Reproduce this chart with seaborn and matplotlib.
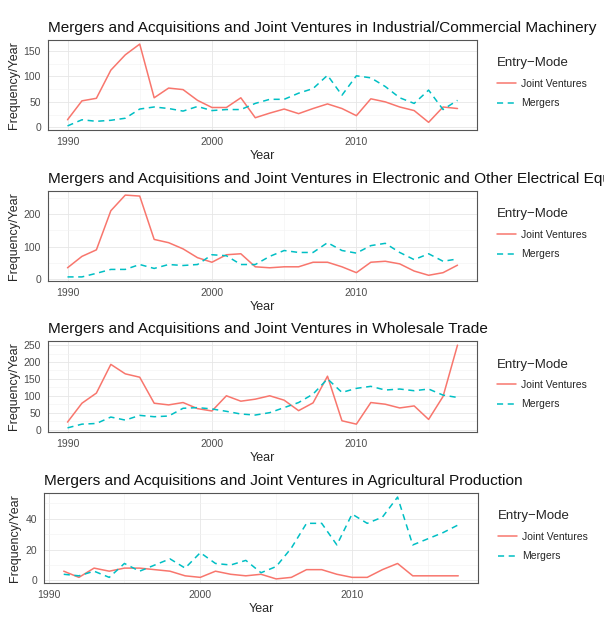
import seaborn as sns
import matplotlib.pyplot as plt
import pandas as pd
from matplotlib.ticker import MultipleLocator

# values
years = list(range(1990, 2018))
years_agri = list(range(1991, 2018))

machinery_jv = [15, 52, 57, 112, 142, 163, 58, 77, 74, 53, 39, 39, 58, 19,
                28, 36, 27, 37, 46, 37, 23, 56, 50, 40, 33, 10, 40, 37]
machinery_m = [3, 15, 12, 14, 18, 36, 40, 37, 32, 41, 33, 35, 35, 47,
               55, 55, 67, 76, 102, 63, 101, 97, 80, 58, 47, 73, 35, 53]

electronic_jv = [35, 70, 90, 210, 258, 255, 122, 112, 93, 66, 52, 75, 78, 38,
                 35, 38, 38, 52, 52, 38, 20, 52, 55, 47, 25, 12, 20, 43]
electronic_m = [7, 7, 18, 30, 30, 45, 33, 45, 42, 45, 75, 72, 45, 45,
                70, 88, 82, 82, 112, 88, 80, 103, 110, 82, 60, 78, 55, 62]

wholesale_jv = [22, 78, 108, 193, 165, 155, 78, 73, 80, 62, 55, 100, 84, 90,
                100, 87, 56, 79, 158, 26, 16, 80, 75, 64, 70, 30, 98, 250]
wholesale_m = [5, 16, 18, 37, 28, 42, 38, 40, 63, 65, 61, 54, 46, 43,
               50, 65, 80, 105, 150, 110, 122, 128, 117, 120, 115, 120, 102, 95]

agri_jv = [6, 2, 8, 6, 8, 8, 7, 6, 3, 2, 6, 4, 3, 4,
           1, 2, 7, 7, 4, 2, 2, 7, 11, 3, 3, 3, 3]
agri_m = [4, 3, 6, 2, 11, 6, 10, 14, 8, 18, 11, 10, 13, 5,
          9, 21, 37, 37, 23, 43, 37, 41, 54, 23, 27, 31, 36]

titles = [
    "Mergers and Acquisitions and Joint Ventures in Industrial/Commercial Machinery",
    "Mergers and Acquisitions and Joint Ventures in Electronic and Other Electrical Equipment",
    "Mergers and Acquisitions and Joint Ventures in Wholesale Trade",
    "Mergers and Acquisitions and Joint Ventures in Agricultural Production",
]
modes = ["Joint Ventures", "Mergers"]

panels = [
    (years, machinery_jv, machinery_m, 50, (48, 40, 477, 130)),
    (years, electronic_jv, electronic_m, 100, (48, 191, 477, 281)),
    (years, wholesale_jv, wholesale_m, 50, (48, 341, 477, 432)),
    (years_agri, agri_jv, agri_m, 20, (44, 493, 478, 583)),
]

sns.set_theme(style="whitegrid")
plt.rcParams["font.family"] = ["Liberation Sans", "DejaVu Sans"]

W, H = 604, 629
fig = plt.figure(figsize=(W / 100, H / 100), dpi=100)

for title, (yrs, jv, mg, step, (l, t, r, b)) in zip(titles, panels):
    ax = fig.add_axes([l / W, 1 - b / H, (r - l) / W, (b - t) / H])
    df = pd.DataFrame({
        "Year": yrs + yrs,
        "Frequency": jv + mg,
        "Entry−Mode": [modes[0]] * len(yrs) + [modes[1]] * len(yrs),
    })
    sns.lineplot(data=df, x="Year", y="Frequency", hue="Entry−Mode",
                 style="Entry−Mode", palette=["#F8766D", "#00BFC4"],
                 dashes={modes[0]: "", modes[1]: (4, 3)}, lw=1.1, ax=ax)

    # ggplot-like 5% expansion
    span_x = yrs[-1] - yrs[0]
    ax.set_xlim(yrs[0] - 0.05 * span_x, yrs[-1] + 0.05 * span_x)
    vals = jv + mg
    span_y = max(vals) - min(vals)
    ax.set_ylim(min(vals) - 0.05 * span_y, max(vals) + 0.05 * span_y)

    ax.xaxis.set_major_locator(MultipleLocator(10))
    ax.xaxis.set_minor_locator(MultipleLocator(5))
    ax.yaxis.set_major_locator(MultipleLocator(step))
    ax.yaxis.set_minor_locator(MultipleLocator(step / 2))
    ax.grid(which="major", color="#E6E6E6", lw=0.6)
    ax.grid(which="minor", color="#F2F2F2", lw=0.4)
    for sp in ax.spines.values():
        sp.set_color("#555555")
        sp.set_linewidth(0.8)
    ax.tick_params(which="major", length=3, width=0.6, color="#333333",
                   labelsize=7.5, labelcolor="#4D4D4D", pad=2)
    ax.tick_params(which="minor", length=0)

    ax.set_title(title, loc="left", fontsize=11.1, pad=6, color="#111111")
    ax.set_xlabel("Year", fontsize=9, labelpad=2)
    ax.set_ylabel("Frequency/Year", fontsize=9, labelpad=3)

    sns.move_legend(ax, "upper left", bbox_to_anchor=(1.025, 0.91),
                    frameon=False, title="Entry−Mode", fontsize=7.5,
                    title_fontsize=9.5, handlelength=1.8, handletextpad=0.5,
                    labelspacing=0.9)
    ax.get_legend()._legend_box.align = "left"

fig.savefig("out.png", dpi=100)
